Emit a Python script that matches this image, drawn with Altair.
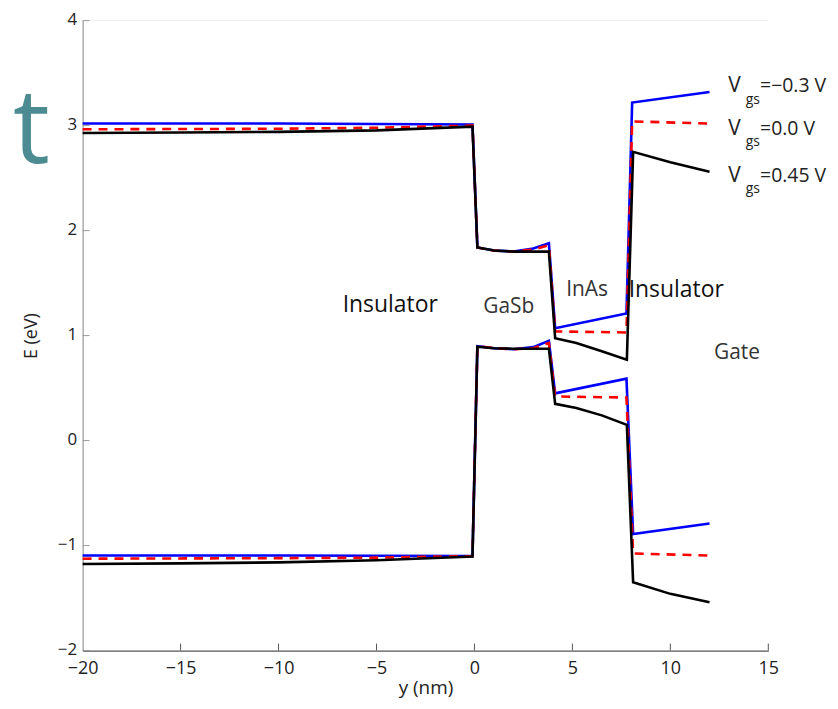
import altair as alt
import pandas as pd

# ---- data ----
series_names = ["Vgs=-0.3 V", "Vgs=0.0 V", "Vgs=0.45 V"]
series_colors = ["#0000ff", "#ff0000", "#000000"]

# conduction band (upper curves)
blue_ec_x = [-20, -10, -0.1, 0.15, 1.0, 2.0, 3.0, 3.8, 4.12, 7.76, 8.05, 12.0]
blue_ec_e = [3.02, 3.02, 3.01, 1.84, 1.81, 1.80, 1.83, 1.88, 1.07, 1.21, 3.22, 3.32]
red_ec_x = [-20, -10, -5, -0.1, 0.15, 1.0, 2.0, 3.0, 3.8, 4.12, 7.76, 8.05, 12.0]
red_ec_e = [2.965, 2.97, 2.98, 3.0, 1.84, 1.81, 1.80, 1.82, 1.86, 1.04, 1.03, 3.04, 3.02]
black_ec_x = [-20, -15, -10, -5, -0.1, 0.15, 1.0, 2.0, 3.0, 3.8, 4.12, 5.2, 6.5, 7.78, 8.1, 10.0, 12.0]
black_ec_e = [2.93, 2.935, 2.94, 2.955, 2.99, 1.84, 1.81, 1.80, 1.80, 1.80, 0.975, 0.93, 0.85, 0.77, 2.75, 2.65, 2.56]

# valence band (lower curves)
blue_ev_x = [-20, -10, -0.1, 0.15, 1.0, 2.0, 3.0, 3.8, 4.12, 7.76, 8.1, 12.0]
blue_ev_e = [-1.095, -1.095, -1.10, 0.90, 0.88, 0.87, 0.89, 0.95, 0.45, 0.59, -0.89, -0.79]
red_ev_x = [-20, -10, -5, -0.1, 0.15, 1.0, 2.0, 3.0, 3.8, 4.12, 7.76, 8.1, 12.0]
red_ev_e = [-1.125, -1.12, -1.115, -1.10, 0.90, 0.88, 0.87, 0.88, 0.93, 0.42, 0.41, -1.075, -1.095]
black_ev_x = [-20, -15, -10, -5, -0.1, 0.15, 1.0, 2.0, 3.0, 3.8, 4.12, 5.2, 6.5, 7.78, 8.1, 10.0, 12.0]
black_ev_e = [-1.175, -1.17, -1.16, -1.14, -1.105, 0.895, 0.88, 0.875, 0.875, 0.875, 0.35, 0.31, 0.24, 0.15, -1.35, -1.46, -1.54]

# region labels
region_text = ["Insulator", "GaSb", "InAs", "Insulator", "Gate"]
region_x = [-4.3, 1.75, 5.75, 10.3, 13.4]
region_e = [1.29, 1.27, 1.43, 1.43, 0.83]
region_color = ["#111111", "#333333", "#333333", "#111111", "#333333"]
region_size = [23, 21, 21, 23, 21]

# legend-like annotations
leg_main = ["V", "V", "V"]
leg_sub = ["gs", "gs", "gs"]
leg_rest = ["=\u22120.3 V", "=0.0 V", "=0.45 V"]
leg_e = [3.38, 2.97, 2.52]
leg_sub_e = [3.245, 2.845, 2.395]

x_ticks = [-20, -15, -10, -5, 0, 5, 10, 15]
y_ticks = [-2, -1, 0, 1, 2, 3, 4]

W, H = 689, 633
FONT = "Open Sans"

def curve(xs, es, name):
    return pd.DataFrame({"x": xs, "E": es, "band": name, "i": range(len(xs))})

curves = {
    "blue": [curve(blue_ec_x, blue_ec_e, "ec"), curve(blue_ev_x, blue_ev_e, "ev")],
    "red": [curve(red_ec_x, red_ec_e, "ec"), curve(red_ev_x, red_ev_e, "ev")],
    "black": [curve(black_ec_x, black_ec_e, "ec"), curve(black_ev_x, black_ev_e, "ev")],
}

xs = alt.Scale(domain=[-20, 15], nice=False, zero=False)
ys = alt.Scale(domain=[-2, 4], nice=False, zero=False)

x_axis = alt.Axis(values=x_ticks, tickSize=0, labelFlush=False, domainColor="#555555",
                  domainWidth=1.2, labelFontSize=18, labelFont=FONT, labelColor="#222222",
                  labelPadding=9, titleFont=FONT, titleFontSize=19, titleFontWeight="normal",
                  titleColor="#222222", titlePadding=1, grid=False, labelOverlap=False)
y_axis = alt.Axis(values=y_ticks, tickSize=0, labelFlush=False, domainColor="#999999",
                  domainWidth=1.2, labelFontSize=17, labelFont=FONT, labelColor="#222222",
                  labelPadding=6, labelOffset=-1, titleFont=FONT, titleFontSize=18,
                  titleFontWeight="normal", titleColor="#222222", titlePadding=17,
                  grid=False, labelOverlap=False)

def X():
    return alt.X("x:Q", scale=xs, axis=x_axis, title="y (nm)")

def Y():
    return alt.Y("E:Q", scale=ys, axis=y_axis, title="E (eV)")

layers = []

# faint top border line
layers.append(alt.Chart(pd.DataFrame({"E": [4]})).mark_rule(color="#eeeeee", strokeWidth=1).encode(
    y=Y(), x=alt.value(0), x2=alt.value(W)))

# inward ticks
layers.append(alt.Chart(pd.DataFrame({"x": x_ticks[1:]})).mark_rule(color="#555555", strokeWidth=1).encode(
    x=X(), y=alt.value(H), y2=alt.value(H - 7)))
layers.append(alt.Chart(pd.DataFrame({"E": y_ticks})).mark_rule(color="#999999", strokeWidth=1).encode(
    y=Y(), x=alt.value(0), x2=alt.value(7)))

styles = {
    "blue": dict(color=series_colors[0]),
    "red": dict(color=series_colors[1], strokeDash=[9, 7]),
    "black": dict(color=series_colors[2]),
}
for key in ["blue", "red", "black"]:
    for d in curves[key]:
        layers.append(alt.Chart(d).mark_line(strokeWidth=2.6, **styles[key]).encode(
            x=X(), y=Y(), order="i:Q"))

# region labels
reg = pd.DataFrame({"x": region_x, "E": region_e, "t": region_text,
                    "c": region_color, "s": region_size})
layers.append(alt.Chart(reg).mark_text(font=FONT, align="center", baseline="middle").encode(
    x=X(), y=Y(), text="t:N",
    color=alt.Color("c:N", scale=None),
    size=alt.Size("s:Q", scale=None)))

# legend annotations
lm = pd.DataFrame({"x": [12.95] * 3, "E": leg_e, "t": leg_main})
ls = pd.DataFrame({"x": [13.85] * 3, "E": leg_sub_e, "t": leg_sub})
lr = pd.DataFrame({"x": [14.58] * 3, "E": leg_e, "t": leg_rest})
layers.append(alt.Chart(lm).mark_text(font=FONT, fontSize=21, align="left", baseline="middle",
                                      color="#222222").encode(x=X(), y=Y(), text="t:N"))
layers.append(alt.Chart(ls).mark_text(font=FONT, fontSize=14, align="left", baseline="middle",
                                      color="#222222").encode(x=X(), y=Y(), text="t:N"))
layers.append(alt.Chart(lr).mark_text(font=FONT, fontSize=19.5, align="left", baseline="middle",
                                      color="#222222").encode(x=X(), y=Y(), text="t:N"))

# cropped slide letter at the left edge
layers.append(alt.Chart(pd.DataFrame({"x": [-23.55], "E": [2.64], "t": ["t"]})).mark_text(
    font=FONT, fontSize=104, align="left", baseline="alphabetic", color="#4b8b91").encode(
    x=X(), y=Y(), text="t:N"))

chart = alt.layer(*layers).properties(
    width=W, height=H,
    autosize=alt.AutoSizeParams(type="none"),
    padding={"left": 75, "top": 11, "right": 62, "bottom": 48},
    background="white",
).configure_view(stroke=None)

chart.save("out.html", embed_options={"renderer": "svg", "actions": False})
